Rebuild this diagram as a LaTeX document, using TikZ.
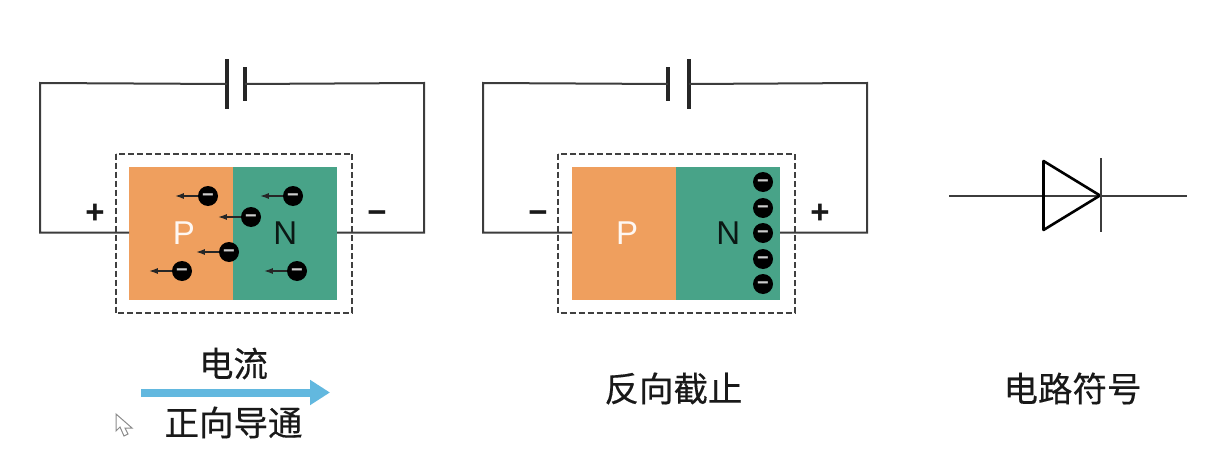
\documentclass[tikz,border=0pt]{standalone}
\usepackage{fontspec}
\setmainfont{Liberation Sans}
\newfontfamily\cjk[FakeBold=0.35]{Noto Sans CJK SC}
\usetikzlibrary{positioning,arrows.meta}
\definecolor{porange}{HTML}{EF9F5E}
\definecolor{ngreen}{HTML}{48A388}
\definecolor{flowblue}{HTML}{62B8DF}
\definecolor{wiregray}{HTML}{3C3C3C}
\tikzset{
  region/.style={
    minimum width=104pt,
    minimum height=133pt,
    inner sep=0pt,
    font=\fontsize{33}{33}\selectfont,
  },
  p region/.style={region, fill=porange, text=white!92!porange},
  n region/.style={region, fill=ngreen, text=black!85!ngreen},
  wire/.style={draw=wiregray, line width=2pt},
  outline/.style={draw=black!75, line width=2pt, dash pattern=on 6pt off 3pt},
  plate/.style={
    fill=black!85,
    inner sep=0pt,
    minimum width=3.4pt,
    minimum height={#1pt},
  },
  electron/.style={
    circle,
    fill=black,
    inner sep=0pt,
    minimum size=20pt,
    text=white!80!black,
    font=\fontsize{20}{20}\bfseries\selectfont,
  },
  drift/.style={
    draw=black!85,
    line width=1.6pt,
    -{Latex[length=9pt,width=6pt]},
  },
  polarity/.style={
    font=\fontsize{33}{33}\bfseries\selectfont,
    inner sep=0pt,
    text=black!90,
  },
  caption/.style={
    font=\cjk\fontsize{34.5}{34.5}\selectfont,
    inner sep=0pt,
    text=black!90,
  },
}
\newcommand{\eminus}{\raisebox{-5pt}[0pt][0pt]{−}}

\begin{document}
\begin{tikzpicture}[x=1pt,y=-1pt,node distance=0pt]
        \useasboundingbox (0,0) rectangle (1221,460);

        % forward biased
        \node [p region] (p1) at (181,233.5) {\hspace*{6pt}P};
        \node [n region, right=of p1] (n1) {N};
        \node [plate=50] (long1) at (227,84) {};
        \node [plate=33] (short1) at (245,84) {};
        \coordinate (a1) at (40,232.5);
        \coordinate (b1) at (424,232.5);
        \coordinate (c1) at (129,232.5);
        \coordinate (d1) at (337,232.5);
        \draw [wire] (long1.center) -- (40,83) -- (a1) -- (c1);
        \draw [wire] (short1.center) -- (424,83) -- (b1) -- (d1);
        \draw [outline] (115.5,153.5) rectangle (352,313);
        \node [polarity] (plus1) at (95,214) {+};
        \node [polarity] (minus1) at (377,217) {−};
        \foreach \i/\x/\y in {1/208/196, 2/251/217, 3/229/252, 4/182/271, 5/293/196, 6/297/271} {
          \node [electron] (e\i) at (\x,\y) {\eminus};
          \coordinate [left=23pt of e\i.west] (t\i);
          \draw [drift] (e\i.west) -- (t\i);
        }

        % reverse biased
        \node [p region] (p2) at (624,233.5) {\hspace*{6pt}P};
        \node [n region, right=of p2] (n2) {N};
        \node [plate=33] (short2) at (668,84) {};
        \node [plate=50] (long2) at (689,84) {};
        \coordinate (a2) at (483,232.5);
        \coordinate (b2) at (867,232.5);
        \coordinate (c2) at (572,232.5);
        \coordinate (d2) at (780,232.5);
        \draw [wire] (short2.center) -- (483,83) -- (a2) -- (c2);
        \draw [wire] (long2.center) -- (867,83) -- (b2) -- (d2);
        \draw [outline] (558,153.5) rectangle (794.5,313);
        \node [polarity] (minus2) at (538,217) {−};
        \node [polarity] (plus2) at (820,214) {+};
        \foreach \i/\y in {1/182, 2/208, 3/233, 4/259, 5/284} {
          \node [electron] (f\i) at (763,\y) {\eminus};
        }

        % circuit symbol
        \coordinate (in) at (949,195.5);
        \coordinate (out) at (1187,195.5);
        \draw [wire] (in) -- (out);
        \draw [wire, draw=black, line width=2.6pt, line join=round] (1043.5,161) -- (1100,195.5) -- (1043.5,230) -- cycle;
        \draw [wire] (1100.5,158) -- (1100.5,232);

        % captions
        \node [caption] (c1text) at (233.5,363.5) {电流};
        \coordinate (flow start) at (141,392.5);
        \coordinate (flow end) at (330,392.5);
        \draw [draw=flowblue, line width=8pt, -{Triangle[length=20pt,width=24pt]}] (flow start) -- (flow end);
        \node [caption] (c2text) at (233.5,422.5) {正向导通};
        \node [caption] (c3text) at (673.5,388.5) {反向截止};
        \node [caption] (c4text) at (1072.5,388.5) {电路符号};

        % pointer
        \draw [draw=black!45, line width=1pt, fill=white] (116,414) -- (116,431) -- (120,427) -- (124,436) -- (128,434) -- (125,428) -- (132,428) -- cycle;
      \end{tikzpicture}
\end{document}
